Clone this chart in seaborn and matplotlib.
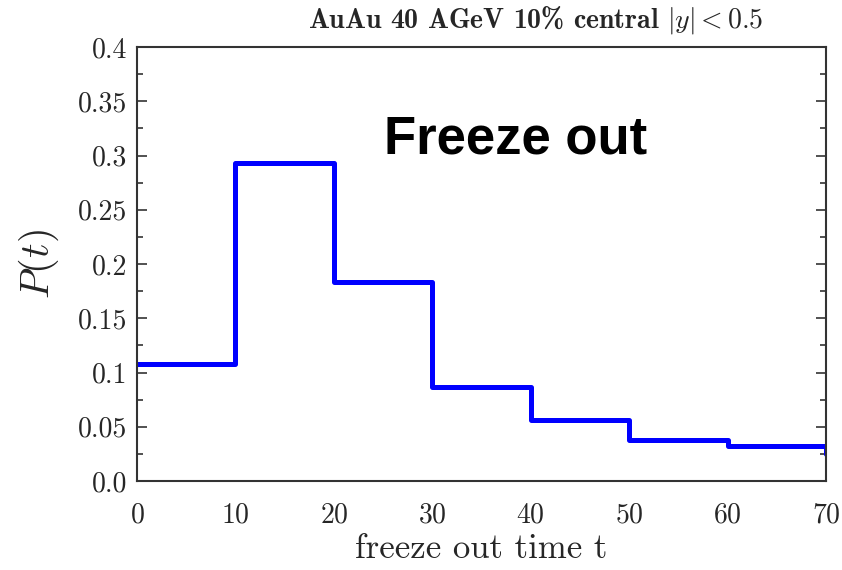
import matplotlib
matplotlib.use("Agg")
import matplotlib.pyplot as plt
import seaborn as sns
import pandas as pd
from matplotlib.ticker import MultipleLocator, FixedLocator, FixedFormatter

# Data
time_edges = [0, 10, 20, 30, 40, 50, 60, 70, 70]
prob = [0.108, 0.293, 0.183, 0.087, 0.056, 0.038, 0.032, 0.032, 0.025]
ytick_vals = [0.0, 0.05, 0.1, 0.15, 0.2, 0.25, 0.3, 0.35, 0.4]
ytick_labels = ["0.0", "0.05", "0.1", "0.15", "0.2", "0.25", "0.3", "0.35", "0.4"]
xtick_vals = [0, 10, 20, 30, 40, 50, 60, 70]

sns.set_theme(style="white")
plt.rcParams["font.family"] = ["cmr10", "DejaVu Serif"]
plt.rcParams["mathtext.fontset"] = "cm"
plt.rcParams["axes.formatter.use_mathtext"] = True

df = pd.DataFrame({"t": time_edges, "P": prob})

fig = plt.figure(figsize=(8.42, 5.70), dpi=100)
ax = fig.add_axes([0.1627, 0.1561, 0.8183, 0.7614])

sns.lineplot(data=df, x="t", y="P", ax=ax, estimator=None, sort=False,
             drawstyle="steps-post", color="#0000ff", linewidth=3.6)

ax.set_xlim(0, 70)
ax.set_ylim(0, 0.4)
ax.xaxis.set_major_locator(FixedLocator(xtick_vals))
ax.yaxis.set_major_locator(FixedLocator(ytick_vals))
ax.yaxis.set_major_formatter(FixedFormatter(ytick_labels))
ax.yaxis.set_minor_locator(MultipleLocator(0.025))

ax.tick_params(axis="y", which="major", direction="in", length=7, width=1.2,
               color="#333333", left=True, right=True, labelsize=20, pad=7)
ax.tick_params(axis="y", which="minor", direction="in", length=4, width=1.2,
               color="#333333", left=True, right=True)
ax.tick_params(axis="x", which="both", bottom=False, top=False, labelsize=20, pad=9)

for s in ax.spines.values():
    s.set_color("#333333")
    s.set_linewidth(1.5)

ax.set_xlabel("freeze out time t", fontsize=25, labelpad=4)
ax.set_ylabel(r"$P(t)$", fontsize=29, labelpad=12)
ax.set_title(r"AuAu 40 AGeV 10% central $|y| < 0.5$", fontsize=20, pad=14,
             family=["cmb10", "DejaVu Serif"], x=0.578)

ax.text(0.358, 0.786, "Freeze out", transform=ax.transAxes, fontsize=38,
        fontweight="bold", family=["Liberation Sans", "DejaVu Sans"],
        ha="left", va="center", color="black")

fig.savefig("out.png", dpi=100)
